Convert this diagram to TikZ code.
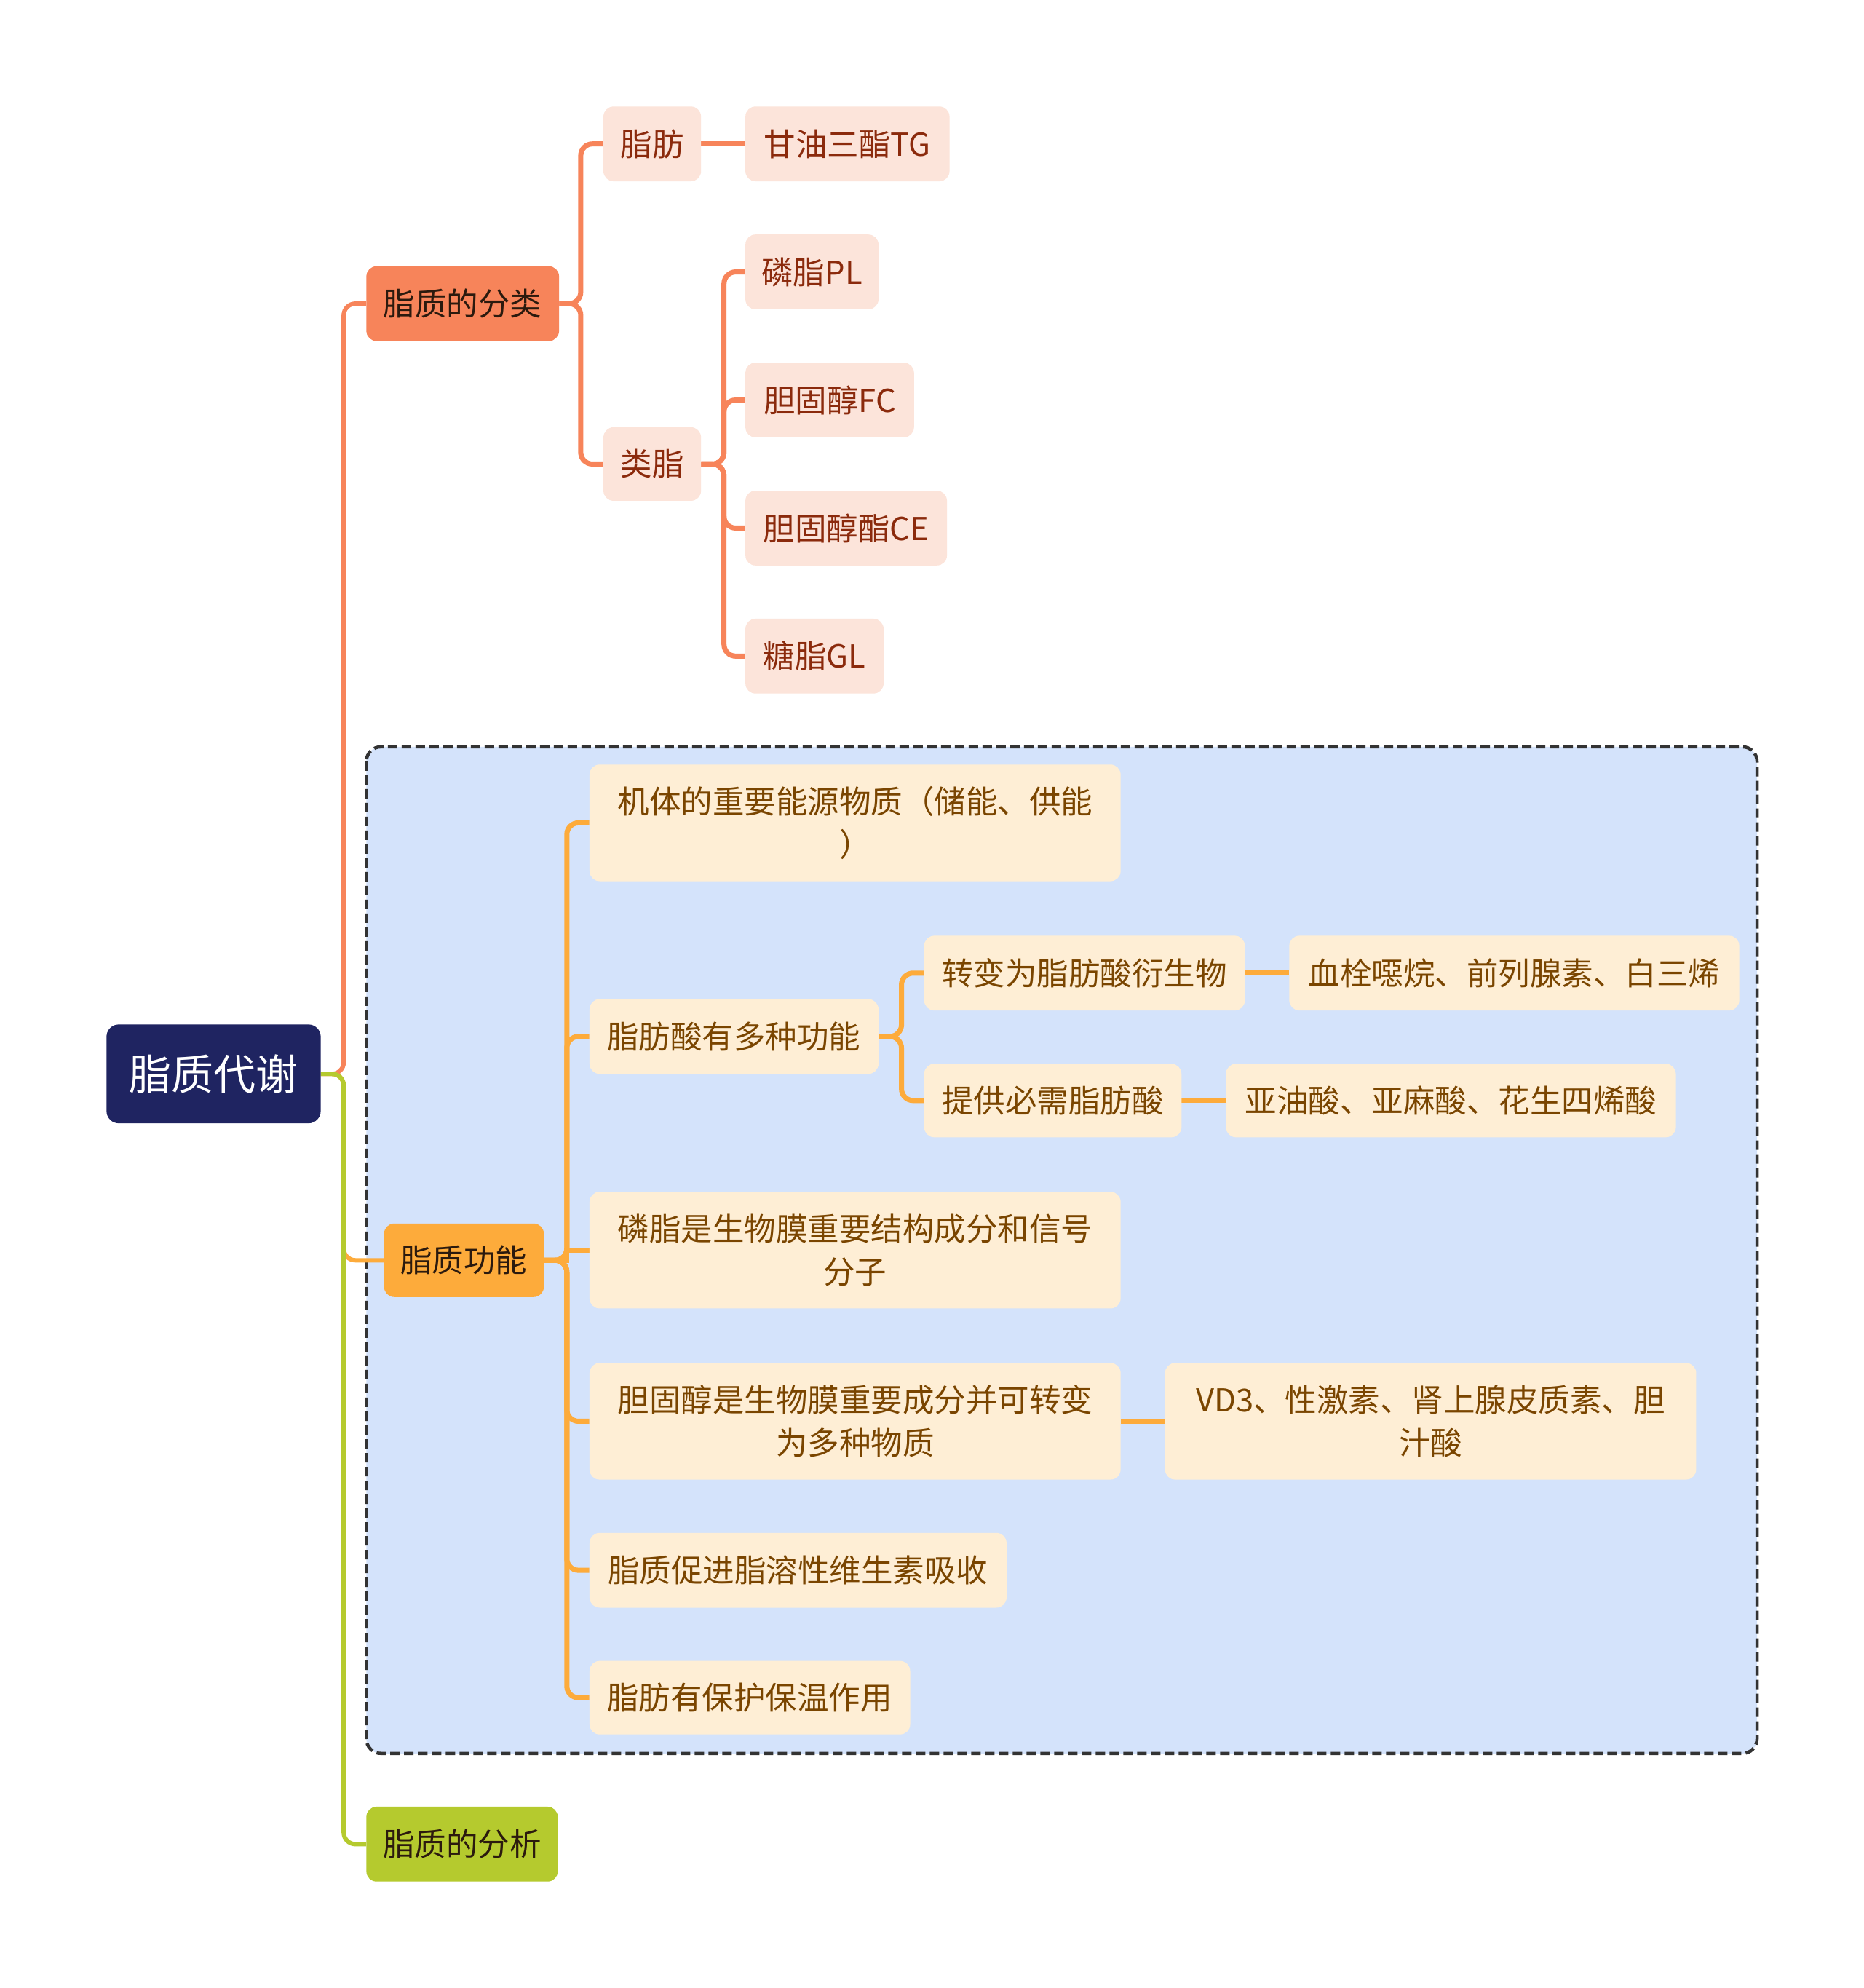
\documentclass[tikz,border=0pt]{standalone}
\usepackage{fontspec}
\setmainfont{Noto Sans CJK SC}
\definecolor{rootc}{HTML}{1F2461}
\definecolor{cA}{HTML}{F7845A}
\definecolor{cAl}{HTML}{FCE4DA}
\definecolor{cAt}{HTML}{8B2A0C}
\definecolor{cB}{HTML}{FDAB3B}
\definecolor{cBl}{HTML}{FEEED5}
\definecolor{cBt}{HTML}{7A4500}
\definecolor{cC}{HTML}{B5CA2E}
\definecolor{boxbg}{HTML}{D4E3FB}
\definecolor{boxln}{HTML}{333333}
\definecolor{dtext}{HTML}{2B1A0E}
\pgfdeclarelayer{frame}
\pgfdeclarelayer{lines}
\pgfsetlayers{frame,lines,main}
\newcommand{\bx}[7]{%
  \pgfmathsetmacro{\bw}{(#4-#2)*1.7415}%
  \pgfmathsetmacro{\bh}{(#5-#3)*1.7415}%
  \node[#6, minimum width=\bw pt, minimum height=\bh pt, inner sep=0pt] (#1) at ({(#2+#4)/2},{(#3+#5)/2}) {#7};%
}
\tikzset{
  base/.style={rectangle, rounded corners=14pt, align=center, font=\fontsize{43.5pt}{59pt}\selectfont},
  rootn/.style={base, fill=rootc, text=white, rounded corners=17pt, font=\fontsize{58pt}{70pt}\selectfont},
  lva/.style={base, fill=cA, text=dtext},
  lvb/.style={base, fill=cB, text=dtext},
  lvc/.style={base, fill=cC, text=dtext},
  suba/.style={base, fill=cAl, text=cAt},
  subb/.style={base, fill=cBl, text=cBt},
  lna/.style={draw=cA, line width=7pt, rounded corners=16pt},
  lnb/.style={draw=cB, line width=7pt, rounded corners=16pt},
  lnc/.style={draw=cC, line width=7pt, rounded corners=16pt},
  trunk/.style={line width=6pt},
}
\begin{document}
\begin{tikzpicture}[x=1.7415pt, y=-1.7415pt]
\useasboundingbox (0,0) rectangle (1470,1568);
\begin{pgfonlayer}{frame}
\fill[white] (0,0) rectangle (1470,1568);
\draw[draw=boxln, fill=boxbg, line width=4.5pt, dash pattern=on 13pt off 6pt, rounded corners=20pt] (289,589) rectangle (1386,1383);
\end{pgfonlayer}

\bx{root}{84}{808}{253}{886}{rootn}{脂质代谢}
\bx{fenlei}{289}{210}{441}{269}{lva}{脂质的分类}
\bx{gongneng}{303}{965}{429}{1023}{lvb}{脂质功能}
\bx{fenxi}{289}{1425}{440}{1484}{lvc}{脂质的分析}

\bx{zhifang}{476}{84}{553}{143}{suba}{脂肪}
\bx{tg}{588}{84}{749}{143}{suba}{甘油三酯TG}
\bx{leizhi}{476}{337}{553}{395}{suba}{类脂}
\bx{pl}{588}{185}{693}{244}{suba}{磷脂PL}
\bx{fc}{588}{286}{721}{345}{suba}{胆固醇FC}
\bx{ce}{588}{387}{747}{446}{suba}{胆固醇酯CE}
\bx{gl}{588}{488}{697}{547}{suba}{糖脂GL}

\bx{fa}{465}{603}{884}{695}{subb}{机体的重要能源物质（储能、供能\\）}
\bx{fb}{465}{788}{693}{847}{subb}{脂肪酸有多种功能}
\bx{fba}{729}{738}{982}{797}{subb}{转变为脂肪酸衍生物}
\bx{fbaa}{1017}{738}{1372}{797}{subb}{血栓噁烷、前列腺素、白三烯}
\bx{fbb}{729}{839}{932}{897}{subb}{提供必需脂肪酸}
\bx{fbba}{967}{839}{1322}{897}{subb}{亚油酸、亚麻酸、花生四烯酸}
\bx{fc3}{465}{940}{884}{1032}{subb}{磷脂是生物膜重要结构成分和信号\\分子}
\bx{fd}{465}{1075}{884}{1167}{subb}{胆固醇是生物膜重要成分并可转变\\为多种物质}
\bx{fda}{919}{1075}{1338}{1167}{subb}{VD3、性激素、肾上腺皮质素、胆\\汁酸}
\bx{fe}{465}{1209}{794}{1268}{subb}{脂质促进脂溶性维生素吸收}
\bx{ff}{465}{1310}{718}{1368}{subb}{脂肪有保护保温作用}

\begin{pgfonlayer}{lines}
% root trunk
\draw[lna, trunk] (root.east) -- ++(18,0) |- (fenlei.west);
\draw[lnb, trunk] (root.east) -- ++(18,0) |- (gongneng.west);
\draw[lnc, trunk] (root.east) -- ++(18,0) |- (fenxi.west);
% classification
\draw[lna] (fenlei.east) -- ++(17,0) |- (zhifang.west);
\draw[lna] (fenlei.east) -- ++(17,0) |- (leizhi.west);
\draw[lna] (zhifang.east) -- (tg.west);
\draw[lna] (leizhi.east) -- ++(18,0) |- (pl.west);
\draw[lna] (leizhi.east) -- ++(18,0) |- (fc.west);
\draw[lna] (leizhi.east) -- ++(18,0) |- (ce.west);
\draw[lna] (leizhi.east) -- ++(18,0) |- (gl.west);
% function
\draw[lnb] (gongneng.east) -- ++(18,0) |- (fa.west);
\draw[lnb] (gongneng.east) -- ++(18,0) |- (fb.west);
\draw[lnb, sharp corners] (gongneng.east) -- ++(18,0) |- (fc3.west);
\draw[lnb] (gongneng.east) -- ++(18,0) |- (fd.west);
\draw[lnb] (gongneng.east) -- ++(18,0) |- (fe.west);
\draw[lnb] (gongneng.east) -- ++(18,0) |- (ff.west);
\draw[lnb] (fb.east) -- ++(18,0) |- (fba.west);
\draw[lnb] (fb.east) -- ++(18,0) |- (fbb.west);
\draw[lnb] (fba.east) -- (fbaa.west);
\draw[lnb] (fbb.east) -- (fbba.west);
\draw[lnb] (fd.east) -- (fda.west);
\end{pgfonlayer}
\end{tikzpicture}
\end{document}
